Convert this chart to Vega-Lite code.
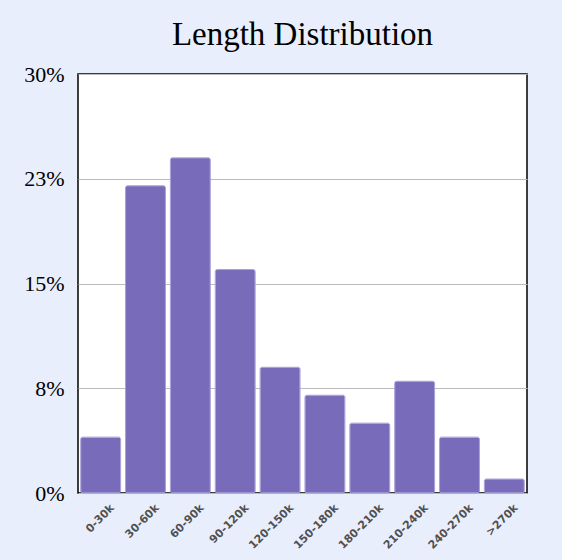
{
  "$schema": "https://vega.github.io/schema/vega-lite/v6.json",
  "autosize": {"type": "none"},
  "width": 449,
  "height": 419,
  "padding": {"left": 78, "top": 74, "right": 35, "bottom": 67},
  "background": "#e9eefc",
  "title": {
    "text": "Length Distribution",
    "font": "Liberation Serif",
    "fontSize": 33,
    "fontWeight": "normal",
    "color": "#000000",
    "anchor": "middle",
    "offset": 11
  },
  "data": {
    "values": [
      {"range": "0-30k", "pct": 4},
      {"range": "30-60k", "pct": 22},
      {"range": "60-90k", "pct": 24},
      {"range": "90-120k", "pct": 16},
      {"range": "120-150k", "pct": 9},
      {"range": "150-180k", "pct": 7},
      {"range": "180-210k", "pct": 5},
      {"range": "210-240k", "pct": 8},
      {"range": "240-270k", "pct": 4},
      {"range": ">270k", "pct": 1}
    ]
  },
  "mark": {
    "type": "bar",
    "color": "#786cba",
    "stroke": "#a89ed8",
    "strokeWidth": 1,
    "cornerRadius": 2
  },
  "encoding": {
    "x": {
      "field": "range",
      "type": "ordinal",
      "sort": null,
      "scale": {"paddingInner": 0.11, "paddingOuter": 0.06},
      "axis": {
        "title": null,
        "labelAngle": -45,
        "labelAlign": "right",
        "labelBaseline": "middle",
        "labelFont": "DejaVu Sans",
        "labelFontWeight": "bold",
        "labelFontSize": 11,
        "labelColor": "#505050",
        "labelPadding": 13,
        "labelOffset": 12,
        "ticks": false,
        "domain": false
      }
    },
    "y": {
      "field": "pct",
      "type": "quantitative",
      "scale": {"domain": [0, 30], "nice": false},
      "axis": {
        "title": null,
        "values": [0, 7.5, 15, 22.5, 30],
        "labelExpr": "round(datum.value) + '%'",
        "labelFont": "Liberation Serif",
        "labelFontSize": 22,
        "labelColor": "#000000",
        "labelPadding": 14,
        "ticks": false,
        "domain": false,
        "grid": true,
        "gridColor": "#bbbbbb",
        "gridWidth": 1
      }
    }
  },
  "config": {
    "view": {"stroke": "#000000", "strokeWidth": 1.5, "fill": "#ffffff"}
  }
}
